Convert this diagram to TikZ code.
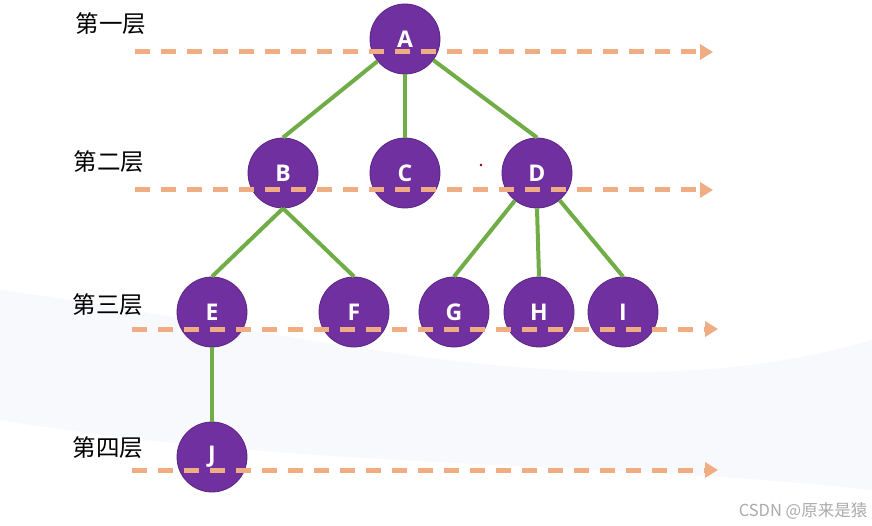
\documentclass[tikz,border=0pt]{standalone}
\usepackage{fontspec}
\setmainfont{Liberation Sans}
\newfontfamily\nodefont{Open Sans}
\newfontfamily\cjk{Noto Sans CJK SC}
\usetikzlibrary{arrows.meta}
\definecolor{nodepurple}{RGB}{112,48,160}
\definecolor{nodeedge}{RGB}{90,36,130}
\definecolor{edgegreen}{RGB}{112,173,71}
\definecolor{levelorange}{RGB}{240,172,130}
\definecolor{swoosh}{RGB}{247,249,253}
\tikzset{
  treenode/.style={circle, minimum size=70pt, inner sep=0pt, fill=nodepurple, draw=nodeedge, line width=0.8pt,
    text=white, font=\nodefont\fontsize{23}{23}\selectfont\bfseries},
  treeedge/.style={draw=edgegreen, line width=4pt},
  levelline/.style={draw=levelorange, line width=5pt, dash pattern=on 15pt off 11pt,
    -{Triangle[length=13pt,width=15pt]}},
  levellabel/.style={font=\cjk\fontsize{23.5}{23.5}\selectfont, text=black, inner sep=0pt},
}
\begin{document}
\begin{tikzpicture}[x=1pt,y=-1pt]
\useasboundingbox (0,0) rectangle (872,526);
\fill[white] (0,0) rectangle (872,526);
% faint background swoosh
\fill[swoosh] (0,290) .. controls (300,330) and (600,420) .. (872,340) -- (872,490) .. controls (600,460) and (300,470) .. (0,420) -- cycle;
% nodes
\node[treenode] (A) at (405,39) {A};
\node[treenode] (B) at (283,173) {B};
\node[treenode] (C) at (405,173) {C};
\node[treenode] (D) at (537,173) {D};
\node[treenode] (E) at (212,312) {E};
\node[treenode] (F) at (354,312) {F};
\node[treenode] (G) at (454,312) {G};
\node[treenode] (H) at (539,312) {H};
\node[treenode] (I) at (623,312) {I};
\node[treenode] (J) at (212,457) {J};
% edges
\draw[treeedge] (A) -- (B.north);
\draw[treeedge] (A) -- (C.north);
\draw[treeedge] (A) -- (D.north);
\draw[treeedge] (B.south) -- (E.north);
\draw[treeedge] (B.south) -- (F.north);
\draw[treeedge] (D) -- (G.north);
\draw[treeedge] (D.south) -- (H.north);
\draw[treeedge] (D) -- (I.north);
\draw[treeedge] (E.south) -- (J.north);
% level labels
\node[levellabel] (L1) at (111,24) {第一层};
\node[levellabel] (L2) at (109,162) {第二层};
\node[levellabel] (L3) at (108,305) {第三层};
\node[levellabel] (L4) at (108,448) {第四层};
% level lines
\coordinate (s1) at (135,52); \coordinate (e1) at (713,52);
\coordinate (s2) at (135,190); \coordinate (e2) at (713,190);
\coordinate (s3) at (132,329); \coordinate (e3) at (718,329);
\coordinate (s4) at (132,470); \coordinate (e4) at (718,470);
\draw[levelline] (s1) -- (e1);
\draw[levelline] (s2) -- (e2);
\draw[levelline] (s3) -- (e3);
\draw[levelline] (s4) -- (e4);
% small dot
\fill[red!50!black] (481,165) circle (1.3pt);
% watermark
\node[font=\cjk\fontsize{16.5}{16.5}\selectfont, text=black!33, inner sep=0pt] (wm) at (803,511) {CSDN @原来是猿};
\end{tikzpicture}
\end{document}
